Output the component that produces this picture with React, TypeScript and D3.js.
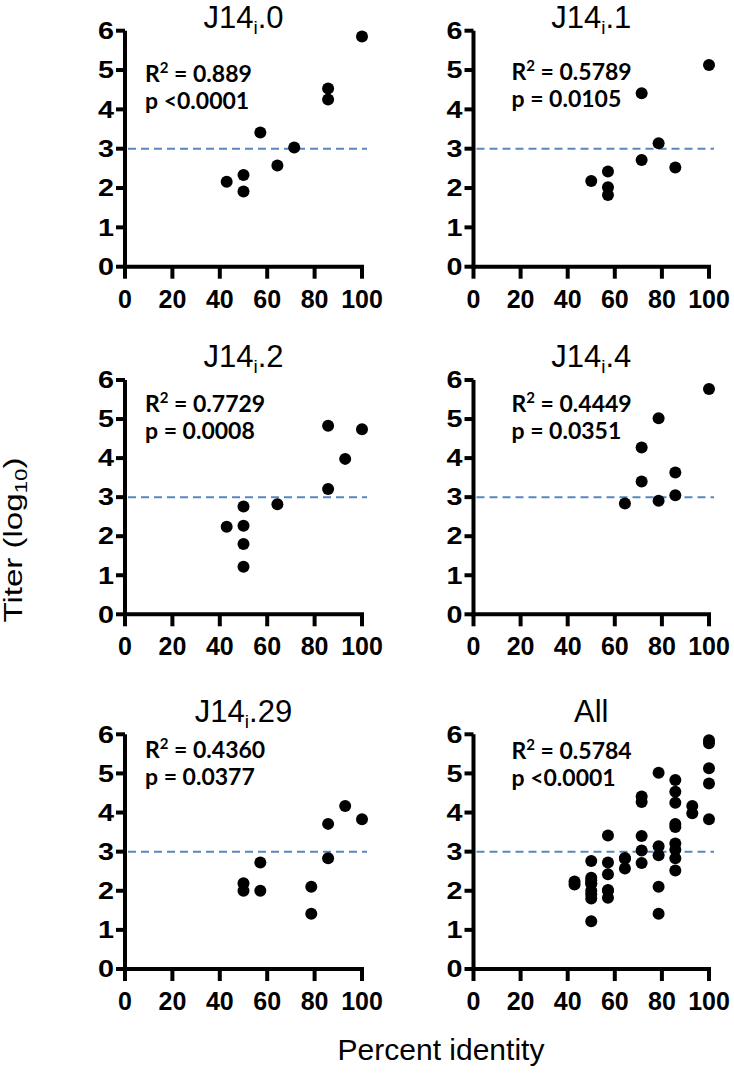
import React from 'react';
import * as d3 from 'd3';

// percent identity (x) and titer log10 (y) for each vaccine panel
const j0X = [42.9, 50, 50, 57.1, 64.3, 71.4, 85.7, 85.7, 100];
const j0Y = [2.16, 2.33, 1.91, 3.41, 2.57, 3.03, 4.53, 4.25, 5.85];

const j1X = [50, 57.1, 57.1, 57.1, 71.4, 71.4, 78.6, 85.7, 100];
const j1Y = [2.18, 2.42, 2.02, 1.82, 4.41, 2.71, 3.14, 2.52, 5.13];

const j2X = [42.9, 50, 50, 50, 50, 64.3, 85.7, 85.7, 92.9, 100];
const j2Y = [2.24, 2.76, 2.27, 1.8, 1.22, 2.82, 4.83, 3.21, 3.98, 4.74];

const j4X = [64.3, 71.4, 71.4, 78.6, 78.6, 85.7, 85.7, 100];
const j4Y = [2.84, 4.27, 3.4, 5.02, 2.91, 3.63, 3.05, 5.77];

const j29X = [50, 50, 57.1, 57.1, 78.6, 78.6, 85.7, 85.7, 92.9, 100];
const j29Y = [2.19, 2.0, 2.72, 2.0, 2.1, 1.41, 3.71, 2.83, 4.17, 3.83];

const allX = [...j0X, ...j1X, ...j2X, ...j4X, ...j29X];
const allY = [...j0Y, ...j1Y, ...j2Y, ...j4Y, ...j29Y];

const titles = ['J14|.0', 'J14|.1', 'J14|.2', 'J14|.4', 'J14|.29', 'All'];
const r2Labels = ['0.889', '0.5789', '0.7729', '0.4449', '0.4360', '0.5784'];
const pLabels = ['<0.0001', '= 0.0105', '= 0.0008', '= 0.0351', '= 0.0377', '<0.0001'];
const xTicks = [0, 20, 40, 60, 80, 100];
const yTicks = [0, 1, 2, 3, 4, 5, 6];
const threshold = 3;

const seriesX = [j0X, j1X, j2X, j4X, j29X, allX];
const seriesY = [j0Y, j1Y, j2Y, j4Y, j29Y, allY];

// layout
const colX0 = [125, 473.5];
const colX1 = [362, 709];
const rowTop = [30.7, 380, 734.3];
const rowBot = [266.7, 614.3, 969];
const titleBase = [28, 367, 722];
const noteOff = [[20, 51], [38, 49], [20, 32], [38, 32], [20, 24], [38, 25]];

const AXIS = '#000';
const DASH = '#5a86c0';
const SANS = 'Liberation Sans, Arial, sans-serif';

const Panel = ({ i }) => {
  const col = i % 2;
  const row = Math.floor(i / 2);
  const x = d3.scaleLinear().domain([0, 100]).range([colX0[col], colX1[col]]);
  const y = d3.scaleLinear().domain([0, 6]).range([rowBot[row], rowTop[row]]);
  const xs = seriesX[i];
  const ys = seriesY[i];
  const [main, rest] = titles[i].split('|');
  const cx = (x(0) + x(100)) / 2;
  const nx = x(0) + noteOff[i][0];
  const ny = y(6) + noteOff[i][1];

  return (
    <g>
      <text x={cx} y={titleBase[row]} textAnchor="middle" fontFamily={SANS} fontSize={31}>
        {rest === undefined ? main : (
          <>
            {main}
            <tspan fontSize={19} dy={6}>i</tspan>
            <tspan dy={-6}>{rest}</tspan>
          </>
        )}
      </text>

      {/* threshold */}
      <line x1={x(0) + 3} x2={x(100) + 5} y1={y(threshold)} y2={y(threshold)}
        stroke={DASH} strokeWidth={2} strokeDasharray="8,5" />

      {/* y axis */}
      <line x1={x(0)} x2={x(0)} y1={y(6)} y2={y(0) + 2} stroke={AXIS} strokeWidth={4} />
      {yTicks.map(t => (
        <g key={'y' + t}>
          <line x1={x(0) - 9} x2={x(0)} y1={y(t)} y2={y(t)} stroke={AXIS} strokeWidth={4} />
          <text x={x(0) - 11} y={y(t)} dy="0.36em" textAnchor="end" fontFamily={SANS}
            fontWeight="bold" fontSize={23} textLength={16} lengthAdjust="spacingAndGlyphs">{t}</text>
        </g>
      ))}

      {/* x axis */}
      <line x1={x(0) - 2} x2={x(100) + 2} y1={y(0)} y2={y(0)} stroke={AXIS} strokeWidth={4} />
      {xTicks.map(t => (
        <g key={'x' + t}>
          <line x1={x(t)} x2={x(t)} y1={y(0)} y2={y(0) + 12} stroke={AXIS} strokeWidth={4} />
          <text x={x(t)} y={y(0) + 41} textAnchor="middle" fontFamily={SANS}
            fontWeight="bold" fontSize={25}>{t}</text>
        </g>
      ))}

      {xs.map((v, k) => (
        <circle key={k} cx={x(v)} cy={y(ys[k])} r={6} fill="#000" />
      ))}

      <g fontFamily="Lato, 'Open Sans', sans-serif" fontWeight="bold" fontSize={23} fill="#000">
        <text x={nx} y={ny}>R<tspan fontSize={15} dy={-9}>2</tspan><tspan dy={9}>{' = ' + r2Labels[i]}</tspan></text>
        <text x={nx} y={ny + 27}>{'p ' + pLabels[i]}</text>
      </g>
    </g>
  );
};

export default function App() {
  return (
    <svg width={734} height={1074} style={{ position: 'absolute', left: 0, top: 0, background: '#fff' }}>
      <rect width={734} height={1074} fill="#fff" />
      {titles.map((_, i) => <Panel key={i} i={i} />)}
      <text transform="translate(22,540) rotate(-90)" textAnchor="middle" fontFamily={SANS}
        fontSize={25} textLength={165} lengthAdjust="spacingAndGlyphs">
        Titer (log<tspan fontSize={17} dy={5}>10</tspan><tspan dy={-5}>)</tspan>
      </text>
      <text x={441} y={1060} textAnchor="middle" fontFamily={SANS} fontSize={30}>
        Percent identity
      </text>
    </svg>
  );
}
